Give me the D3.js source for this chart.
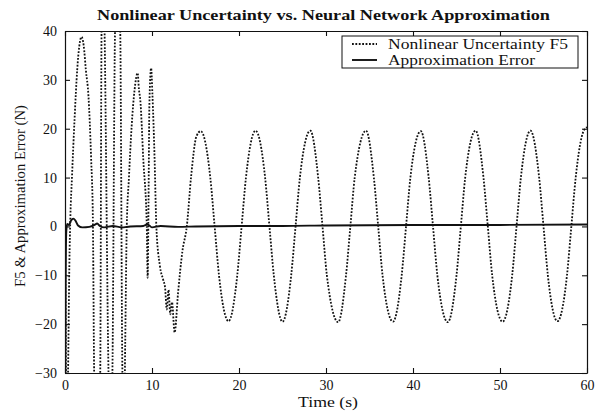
<!DOCTYPE html>
<html>
<head>
<meta charset="utf-8">
<script src="https://cdn.jsdelivr.net/npm/d3@7"></script>
<style>
  html, body { margin: 0; padding: 0; background: #fff; }
  svg { display: block; }
  text { font-family: "Liberation Serif", "DejaVu Serif", serif; fill: #111; }
</style>
</head>
<body>
<svg id="chart" width="605" height="412"></svg>
<script>
// ---- data ----
const chartTitle = "Nonlinear Uncertainty vs. Neural Network Approximation";
const xLabel = "Time (s)";
const yLabel = "F5 & Approximation Error (N)";
const legendLabels = ["Nonlinear Uncertainty F5", "Approximation Error"];
const xTicks = [0, 10, 20, 30, 40, 50, 60];
const yTicks = [-30, -20, -10, 0, 10, 20, 30, 40];

// Nonlinear uncertainty F5 (dotted)
const f5Time = [
  0.00, 0.08, 0.16, 0.35, 0.50, 0.62, 0.80, 1.10, 1.40, 1.65, 1.90, 2.15, 2.40, 2.70, 3.00, 3.20,
  3.35, 3.70, 4.05, 4.20, 4.38, 4.55, 5.00, 5.25, 5.45, 5.75, 6.05, 6.35, 6.60, 6.80, 6.92, 7.10,
  7.35, 7.66, 8.00, 8.35, 8.50, 8.65, 9.00, 9.40, 9.50, 9.60, 9.70, 9.90, 10.05, 10.30, 10.50,
  10.90, 11.30, 11.50, 11.70, 11.90, 12.10, 12.30, 12.60, 13.00, 13.50, 14.00, 14.50, 15.10, 15.60,
  16.70, 17.20, 17.70, 18.80, 19.80, 20.30, 20.80, 21.90, 23.00, 23.50, 24.00, 25.00, 26.00, 26.50,
  27.00, 28.20, 29.10, 29.60, 30.10, 31.40, 32.30, 32.80, 33.30, 34.60, 35.50, 36.00, 36.50, 37.70,
  38.70, 39.20, 39.70, 40.90, 41.80, 42.30, 42.80, 44.00, 45.00, 45.50, 46.00, 47.20, 48.10, 48.60,
  49.10, 50.30, 51.40, 51.90, 52.40, 53.50, 54.50, 55.00, 55.50, 56.60, 57.70, 58.20, 58.70, 59.60, 60.00
];
const f5Value = [
  0, -20, -48, -30, -8, 2, 10, 22, 32, 37, 38.8, 37, 32, 26.6, 14, 2,
  -30, -55, -30, 40, 58, 40, -30, -50, -30, 40, 55, 40, -30, -40, -24, 0,
  10, 20.5, 28, 31.4, 28, 26, 13.7, 0, -10.5, 5, 25, 32.4, 27, 13.7, 0,
  -8, -11, -12.5, -17, -13, -18, -15.5, -21.7, -13.5, -5, 0, 10.3, 18.4, 19.5,
  10, 0, -10, -19.4, -10, 0, 10, 19.6, 10, 0, -10, -19.5, -10, 0,
  10, 19.6, 10, 0, -10, -19.6, -10, 0, 10, 19.6, 10, 0, -10, -19.5,
  -10, 0, 10, 19.5, 10, 0, -10, -19.6, -10, 0, 10, 19.6, 10, 0,
  -10, -19.5, -10, 0, 10, 19.6, 10, 0, -10, -19.4, -10, 0, 10, 19.5, 20.3
];

// Approximation error (solid)
const errTime = [0.00, 0.04, 0.08, 0.15, 0.25, 0.45, 0.70, 0.95, 1.20, 1.50, 2.00, 2.80, 3.40, 3.70, 4.00, 4.50,
  5.50, 6.50, 7.50, 9.00, 9.50, 10.00, 11.00, 13.00, 15.00, 20.00, 25.00, 30.00, 40.00, 50.00, 60.00];
const errValue = [-70, -30, -10, -1, 0.5, 0.3, 1.2, 1.6, 1.2, 0.2, -0.2, -0.1, 0.3, 0.6, 0.1, -0.2,
  0.1, -0.2, 0.0, 0.1, 0.4, -0.2, 0.1, -0.1, 0.0, 0.1, 0.1, 0.2, 0.3, 0.3, 0.4];

// ---- layout ----
const svg = d3.select("#chart");
const L = 65, R = 587, T = 31, B = 373;

const x = d3.scaleLinear().domain([0, 60]).range([L, R]);
const y = d3.scaleLinear().domain([-30, 40]).range([B, T]);

svg.append("defs").append("clipPath").attr("id", "plotClip")
  .append("rect").attr("x", L).attr("y", T).attr("width", R - L).attr("height", B - T);

const f5Data = f5Time.map((t, i) => [t, f5Value[i]]);
const errData = errTime.map((t, i) => [t, errValue[i]]);

const line = d3.line().x(d => x(d[0])).y(d => y(d[1])).curve(d3.curveMonotoneX);

const plot = svg.append("g").attr("clip-path", "url(#plotClip)");

plot.append("path").datum(errData)
  .attr("d", line).attr("fill", "none")
  .attr("stroke", "#111").attr("stroke-width", 1.9);

plot.append("path").datum(f5Data)
  .attr("d", line).attr("fill", "none")
  .attr("stroke", "#111").attr("stroke-width", 1.8)
  .attr("stroke-dasharray", "1.8,1.6");

// ---- axes (ticks inward on all four sides) ----
const tickLen = 5;
const axB = svg.append("g").attr("transform", `translate(0,${B})`)
  .call(d3.axisBottom(x).tickValues(xTicks).tickSizeInner(-tickLen).tickSizeOuter(0).tickPadding(7));
const axT = svg.append("g").attr("transform", `translate(0,${T})`)
  .call(d3.axisTop(x).tickValues(xTicks).tickSizeInner(-tickLen).tickSizeOuter(0).tickFormat(""));
const axL = svg.append("g").attr("transform", `translate(${L},0)`)
  .call(d3.axisLeft(y).tickValues(yTicks).tickSizeInner(-tickLen).tickSizeOuter(0).tickPadding(8));
const axR = svg.append("g").attr("transform", `translate(${R},0)`)
  .call(d3.axisRight(y).tickValues(yTicks).tickSizeInner(-tickLen).tickSizeOuter(0).tickFormat(""));

[axB, axT, axL, axR].forEach(a => {
  a.select(".domain").attr("stroke", "#111").attr("stroke-width", 1.2);
  a.selectAll(".tick line").attr("stroke", "#111").attr("stroke-width", 1.1);
  a.selectAll(".tick text").attr("font-family", "Liberation Serif").attr("font-size", 14).attr("fill", "#111");
});

// ---- titles ----
svg.append("text").attr("x", 323.5).attr("y", 20).attr("text-anchor", "middle")
  .attr("font-size", 15).attr("font-weight", "bold")
  .attr("textLength", 453).attr("lengthAdjust", "spacingAndGlyphs").text(chartTitle);

svg.append("text").attr("x", 328).attr("y", 407).attr("text-anchor", "middle")
  .attr("font-size", 14.5).attr("textLength", 60).attr("lengthAdjust", "spacingAndGlyphs").text(xLabel);

svg.append("text").attr("transform", "translate(25,196) rotate(-90)")
  .attr("text-anchor", "middle").attr("font-size", 14.6)
  .attr("textLength", 182).attr("lengthAdjust", "spacingAndGlyphs").text(yLabel);

// ---- legend ----
const lg = svg.append("g");
lg.append("rect").attr("x", 342).attr("y", 36).attr("width", 236).attr("height", 32)
  .attr("fill", "#fff").attr("stroke", "#111").attr("stroke-width", 1);
lg.append("line").attr("x1", 352).attr("x2", 377).attr("y1", 44).attr("y2", 44)
  .attr("stroke", "#111").attr("stroke-width", 1.8).attr("stroke-dasharray", "1.8,1.6");
lg.append("line").attr("x1", 352).attr("x2", 377).attr("y1", 60).attr("y2", 60)
  .attr("stroke", "#111").attr("stroke-width", 1.9);
lg.append("text").attr("x", 388).attr("y", 48.5).attr("font-size", 13.8)
  .attr("textLength", 180).attr("lengthAdjust", "spacingAndGlyphs").text(legendLabels[0]);
lg.append("text").attr("x", 388).attr("y", 64.5).attr("font-size", 13.8)
  .attr("textLength", 147).attr("lengthAdjust", "spacingAndGlyphs").text(legendLabels[1]);
</script>
</body>
</html>
